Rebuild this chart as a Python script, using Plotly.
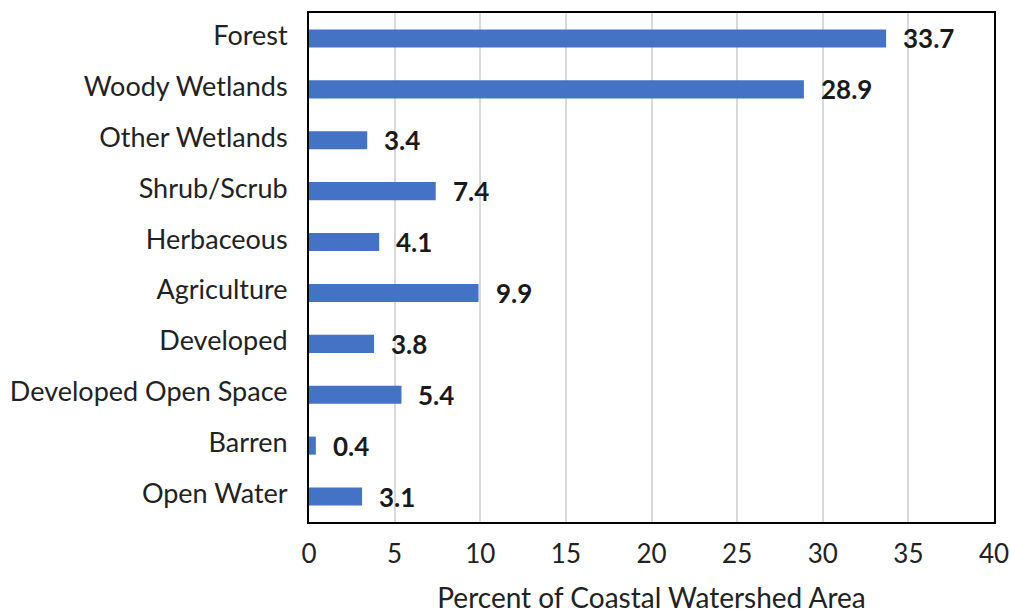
import plotly.graph_objects as go

categories = ["Forest", "Woody Wetlands", "Other Wetlands", "Shrub/Scrub", "Herbaceous",
              "Agriculture", "Developed", "Developed Open Space", "Barren", "Open Water"]
values = [33.7, 28.9, 3.4, 7.4, 4.1, 9.9, 3.8, 5.4, 0.4, 3.1]
x_ticks = [0, 5, 10, 15, 20, 25, 30, 35, 40]

FONT = "Lato"
BAR = "#4472C4"
TXT = "#222222"

fig = go.Figure()
fig.add_trace(go.Bar(
    x=values, y=categories, orientation="h",
    marker=dict(color=BAR, line=dict(width=0)),
    hoverinfo="x+y",
))

# value labels just past each bar's end
for c, v in zip(categories, values):
    fig.add_annotation(
        x=v, y=c, text=f"<b>{v}</b>", showarrow=False,
        xanchor="left", xshift=15, yshift=0,
        font=dict(family=FONT, size=26, color="#1a1a1a"),
    )

fig.update_layout(
    width=1011, height=614,
    margin=dict(l=309, r=17, t=13, b=92, autoexpand=False),
    paper_bgcolor="white", plot_bgcolor="white",
    bargap=0.645,
    showlegend=False,
    font=dict(family=FONT, size=27, color=TXT),
)
fig.update_xaxes(
    range=[0, 40], tickvals=x_ticks, ticktext=[str(t) for t in x_ticks],
    showgrid=True, gridcolor="#d9d9d9", gridwidth=2,
    showline=True, linecolor="black", linewidth=2, mirror=True,
    ticks="", ticklen=0, zeroline=False, automargin=False,
    ticklabelstandoff=8,
    tickfont=dict(size=26, color=TXT),
    title=dict(text="Percent of Coastal Watershed Area", standoff=24,
               font=dict(size=28, color=TXT)),
)
fig.update_yaxes(
    categoryorder="array", categoryarray=categories[::-1],
    showline=True, linecolor="black", linewidth=2, mirror=True,
    showgrid=False, ticks="", ticklen=0, automargin=False,
    ticklabelstandoff=14, ticklabelshift=-3,
    tickfont=dict(size=27, color=TXT),
)

fig.write_html("out.html")
